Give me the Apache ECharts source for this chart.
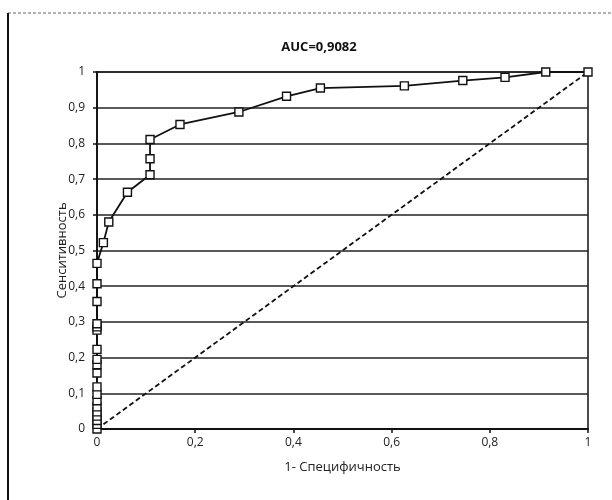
<!DOCTYPE html>
<html>
<head>
<meta charset="utf-8">
<script src="https://cdn.jsdelivr.net/npm/echarts@6/dist/echarts.min.js"></script>
<style>
html,body{margin:0;padding:0;background:#fff;}
#chart{width:612px;height:500px;}
</style>
</head>
<body>
<div id="chart"></div>
<script>
const titleText = 'AUC=0,9082';
const xAxisName = '1- Специфичность';
const yAxisName = 'Сенситивность';
const xTicks = [0, 0.2, 0.4, 0.6, 0.8, 1];
const yTicks = [0, 0.1, 0.2, 0.3, 0.4, 0.5, 0.6, 0.7, 0.8, 0.9, 1];
const fpr = [0, 0, 0, 0, 0, 0, 0, 0, 0, 0, 0, 0, 0, 0, 0, 0, 0, 0, 0,
  0.013, 0.024, 0.062, 0.108, 0.108, 0.108, 0.169, 0.289, 0.386, 0.455, 0.626, 0.745, 0.831, 0.914, 1];
const tpr = [0, 0.013, 0.024, 0.036, 0.048, 0.062, 0.079, 0.097, 0.118, 0.157, 0.18, 0.195, 0.223, 0.277, 0.286, 0.295, 0.357, 0.407, 0.464,
  0.522, 0.580, 0.663, 0.712, 0.757, 0.811, 0.853, 0.888, 0.932, 0.955, 0.961, 0.976, 0.985, 1.0, 1.0];
const refX = [0, 1];
const refY = [0, 1];

const fmt = v => String(v).replace('.', ',');
const chart = echarts.init(document.getElementById('chart'));
chart.setOption({
  animation: false,
  backgroundColor: '#fff',
  textStyle: {fontFamily: 'Open Sans'},
  title: {
    text: titleText, left: 314, top: 36, textAlign: 'center',
    textStyle: {fontSize: 13, fontWeight: 'bold', color: '#111', fontFamily: 'Open Sans'}
  },
  grid: {left: 97, right: 24, top: 72, bottom: 71, show: true, borderColor: '#111', borderWidth: 1.5, containLabel: false},
  xAxis: {
    type: 'value', min: 0, max: 1, interval: 0.2,
    name: xAxisName, nameLocation: 'middle', nameGap: 32, nameMoveOverlap: false,
    nameTextStyle: {fontSize: 13, color: '#222'},
    axisLine: {show: true, lineStyle: {color: '#111', width: 1.8}},
    axisTick: {show: true, length: 4, lineStyle: {color: '#111', width: 1.5}},
    axisLabel: {fontSize: 12, color: '#222', margin: 8, formatter: v => xTicks.includes(+v.toFixed(1)) ? fmt(+v.toFixed(1)) : ''},
    splitLine: {show: false}
  },
  yAxis: {
    type: 'value', min: 0, max: 1, interval: 0.1,
    name: yAxisName, nameLocation: 'middle', nameGap: 28, nameRotate: 90, nameMoveOverlap: false,
    nameTextStyle: {fontSize: 13, color: '#222'},
    axisLine: {show: true, lineStyle: {color: '#111', width: 1.8}},
    axisTick: {show: true, length: 4, lineStyle: {color: '#111', width: 1.5}},
    axisLabel: {fontSize: 12, color: '#222', margin: 12, formatter: v => yTicks.includes(+v.toFixed(1)) ? fmt(+v.toFixed(1)) : ''},
    splitLine: {show: true, lineStyle: {color: '#222', width: 1.6}}
  },
  series: [
    {
      type: 'line', data: refX.map((x, i) => [x, refY[i]]),
      symbol: 'none', lineStyle: {color: '#111', width: 1.8, type: [5, 3]}, z: 2
    },
    {
      type: 'line', data: fpr.map((x, i) => [x, tpr[i]]),
      symbol: 'rect', symbolSize: 8,
      itemStyle: {color: '#fff', borderColor: '#111', borderWidth: 1.4},
      lineStyle: {color: '#111', width: 1.8}, z: 3
    }
  ],
  graphic: [
    {type: 'line', shape: {x1: 8, y1: 13, x2: 612, y2: 13}, style: {stroke: '#666', lineWidth: 1, lineDash: [3, 2]}},
    {type: 'line', shape: {x1: 8, y1: 13, x2: 8, y2: 500}, style: {stroke: '#111', lineWidth: 2}}
  ]
});
</script>
</body>
</html>
